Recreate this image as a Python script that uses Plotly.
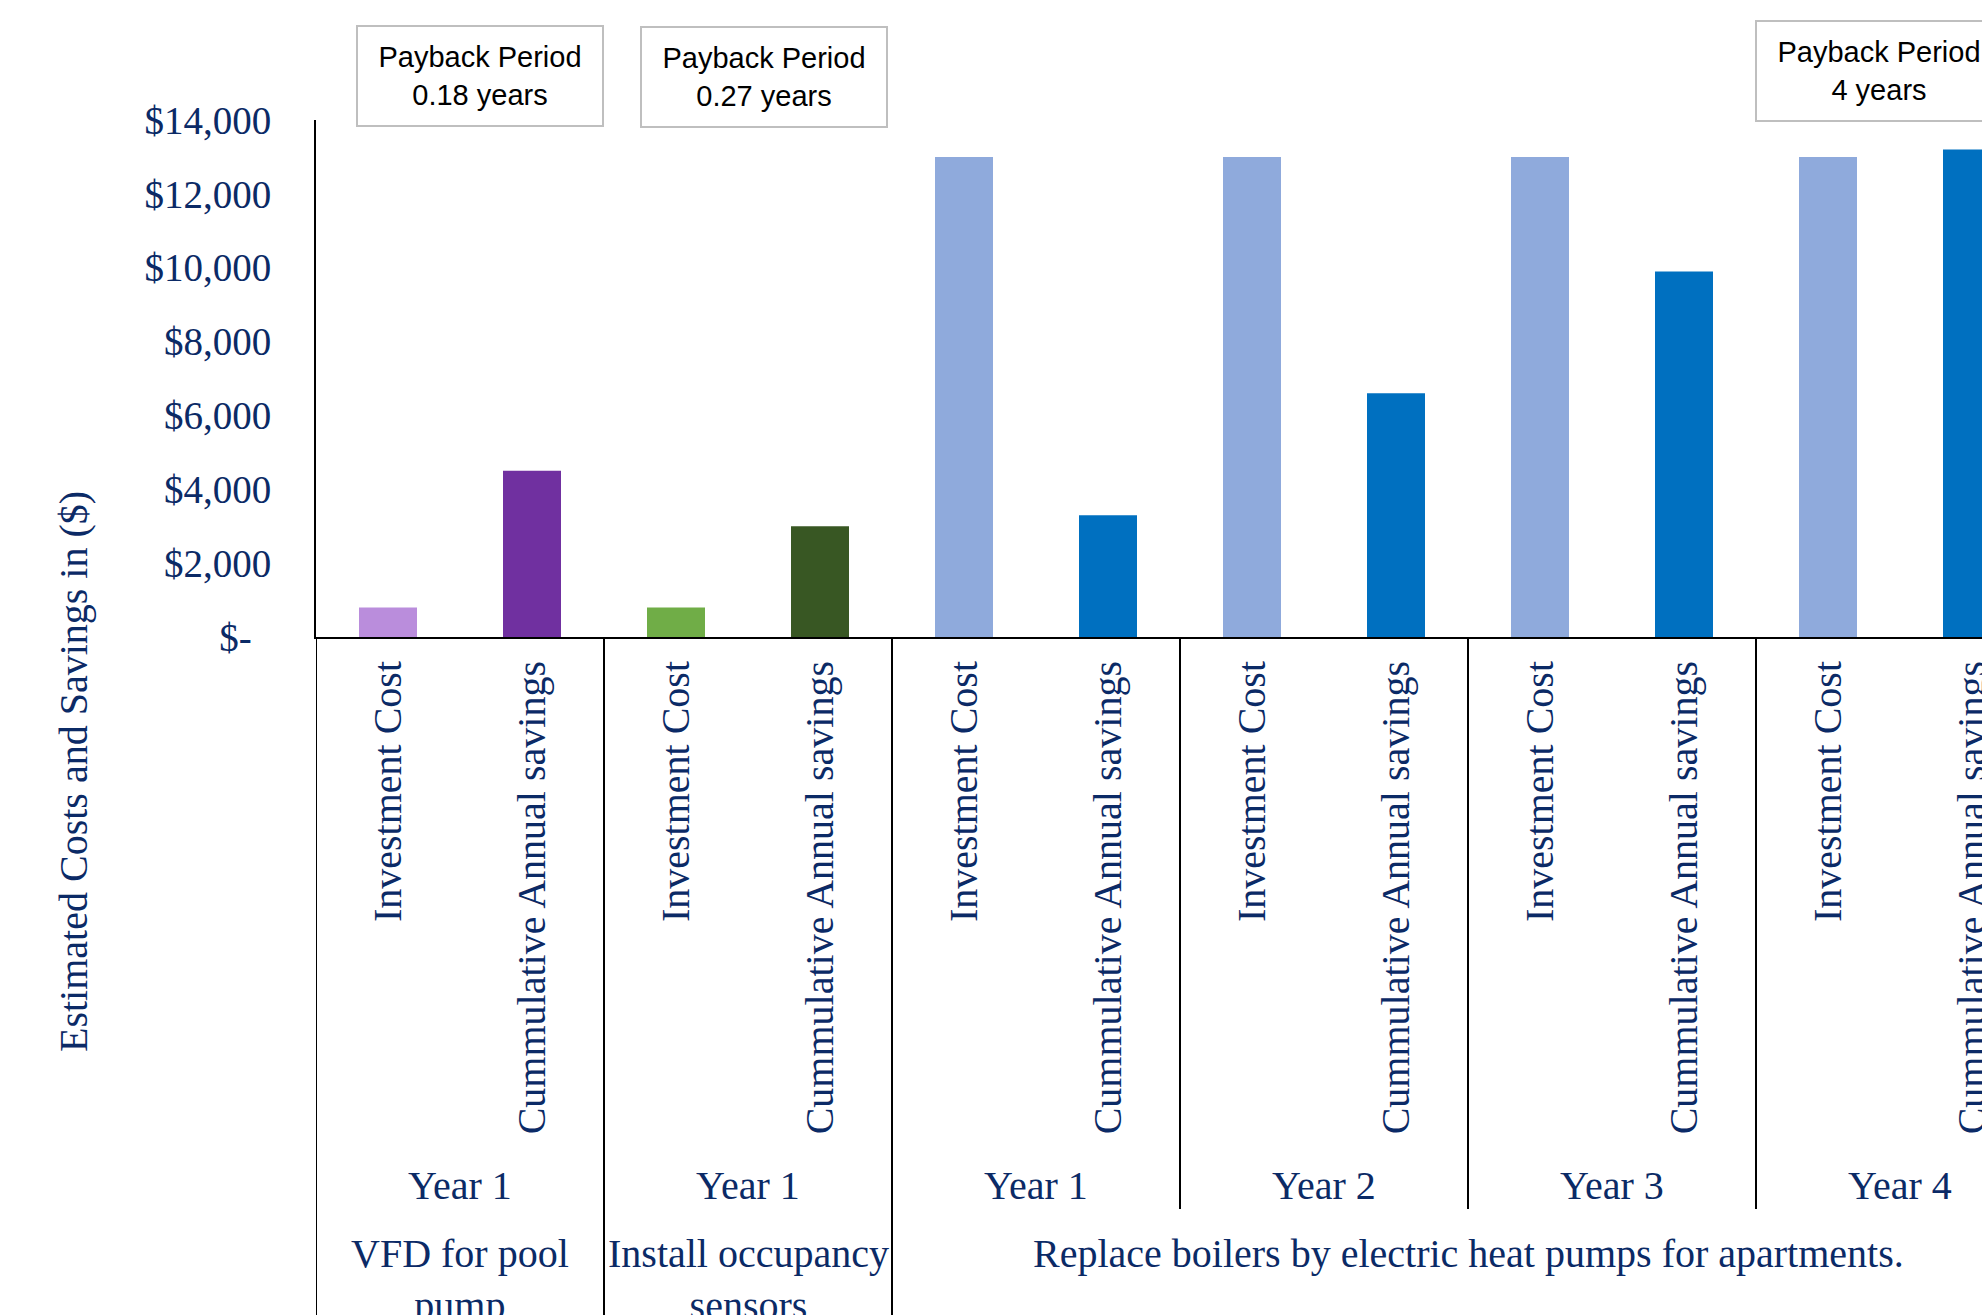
import plotly.graph_objects as go

# ---------------- data ----------------
items = ["Investment Cost", "Cummulative Annual savings"] * 6
year_labels = ["Year 1", "Year 1", "Year 1", "Year 2", "Year 3", "Year 4"]
measures = ["VFD for pool<br>pump", "Install occupancy<br>sensors",
            "Replace boilers by electric heat pumps for apartments."]
measure_year_counts = [1, 1, 4]
investment = [800, 800, 13000, 13000, 13000, 13000]
savings = [4500, 3000, 3300, 6600, 9900, 13200]
payback = ["0.18 years", "0.27 years", "4 years"]
y_ticks = [0, 2000, 4000, 6000, 8000, 10000, 12000, 14000]
y_ticktext = ["$-\u00a0\u00a0", "$2,000", "$4,000", "$6,000", "$8,000",
              "$10,000", "$12,000", "$14,000"]

inv_colors = ["#BA8DDC", "#70AD47", "#8FAADC", "#8FAADC", "#8FAADC", "#8FAADC"]
sav_colors = ["#7030A0", "#385723", "#0070C0", "#0070C0", "#0070C0", "#0070C0"]

NAVY = "#0B2A66"
SERIF = "Liberation Serif, Times New Roman, serif"
SANS = "Liberation Sans, Arial, sans-serif"

# ---------------- geometry ----------------
W, H = 1982, 1315
L, T = 316, 120          # plot-area left / top
ZERO_Y = 637             # pixel of y=0
CAT_W = 144              # pixel width of a category
plot_w = W - L
plot_h = ZERO_Y - T

def py(pix):  # pixel y -> paper y
    return (ZERO_Y - pix) / plot_h

def px(pix):  # pixel x -> paper x
    return (pix - L) / plot_w

# build bars
xs, ys, cols = [], [], []
for i in range(len(investment)):
    xs += [2 * i, 2 * i + 1]
    ys += [investment[i], savings[i]]
    cols += [inv_colors[i], sav_colors[i]]

fig = go.Figure()
fig.add_trace(go.Bar(x=xs, y=ys, marker=dict(color=cols, line=dict(width=0)),
                     showlegend=False, hoverinfo="skip"))

annotations = []
shapes = []

# year labels
for i, yl in enumerate(year_labels):
    annotations.append(dict(x=2 * i + 0.5, xref="x", y=py(1185), yref="paper",
                            text=yl, showarrow=False, xanchor="center", yanchor="middle",
                            font=dict(family=SERIF, size=40, color=NAVY)))

# measure labels and dividers
start = 0
for m, cnt in zip(measures, measure_year_counts):
    n = cnt * 2
    center = start + (n - 1) / 2
    annotations.append(dict(x=center, xref="x", y=py(1229), yref="paper",
                            text=m, showarrow=False, xanchor="center", yanchor="top",
                            font=dict(family=SERIF, size=40, color=NAVY)))
    # full-height divider at the left of each measure group
    shapes.append(dict(type="line", xref="x", yref="paper", x0=start - 0.5, x1=start - 0.5,
                       y0=0, y1=py(1330), line=dict(color="black", width=2)))
    # year dividers inside group
    for k in range(1, cnt):
        xv = start + 2 * k - 0.5
        shapes.append(dict(type="line", xref="x", yref="paper", x0=xv, x1=xv,
                           y0=0, y1=py(1209), line=dict(color="black", width=2)))
    start += n

# payback boxes (pixel centers)
box_centers = [(479.5, 76), (763.5, 77), (1879, 70.5)]
for (cx, cy), pb in zip(box_centers, payback):
    annotations.append(dict(x=px(cx), xref="paper", y=py(cy), yref="paper",
                            text="Payback Period<br>" + pb, showarrow=False,
                            xanchor="center", yanchor="middle",
                            width=244, height=98, borderpad=0,
                            bordercolor="#BFBFBF", borderwidth=2, bgcolor="white",
                            font=dict(family=SANS, size=29, color="black")))

# y axis title
annotations.append(dict(x=px(73), xref="paper", y=py(772), yref="paper",
                        text="Estimated Costs and Savings in ($)", textangle=-90,
                        showarrow=False, xanchor="center", yanchor="middle",
                        font=dict(family=SERIF, size=40, color=NAVY)))

fig.update_layout(
    width=W, height=H, autosize=False,
    margin=dict(l=L, r=0, t=T, b=H - ZERO_Y, pad=0, autoexpand=False),
    paper_bgcolor="white", plot_bgcolor="white",
    bargap=1 - 58 / CAT_W,
    annotations=annotations, shapes=shapes,
    xaxis=dict(range=[-0.5, -0.5 + plot_w / CAT_W], tickmode="array",
               tickvals=list(range(len(items))), ticktext=items, tickangle=-90,
               ticks="", showgrid=False, zeroline=False, showline=True,
               linecolor="black", linewidth=2, ticklabelstandoff=6,
               ticklabeloverflow="allow", automargin=False,
               tickfont=dict(family=SERIF, size=40, color=NAVY)),
    yaxis=dict(range=[0, 14000], tickmode="array", tickvals=y_ticks, ticktext=y_ticktext,
               ticks="", showgrid=False, zeroline=False, showline=True,
               linecolor="black", linewidth=2, ticklabelstandoff=35, automargin=False,
               tickfont=dict(family=SERIF, size=39, color=NAVY)),
)

fig.write_html("out.html")
